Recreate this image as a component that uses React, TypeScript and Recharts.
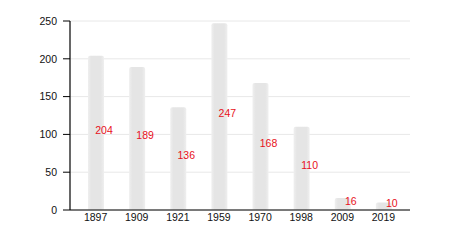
import { BarChart, Bar, XAxis, YAxis, CartesianGrid, LabelList } from "recharts"

const years = ["1897", "1909", "1921", "1959", "1970", "1998", "2009", "2019"]
const population = [204, 189, 136, 247, 168, 110, 16, 10]
const yTicks = [0, 50, 100, 150, 200, 250]

const data = years.map((year, i) => ({ year, value: population[i] }))

export default function App() {
  return (
    <div style={{ position: "absolute", left: 0, top: 0, fontFamily: "Liberation Sans, Arial, sans-serif" }}>
      <BarChart width={450} height={250} data={data} margin={{ top: 21, right: 40, bottom: 10, left: 0 }}>
        <defs>
          <linearGradient id="barFill" x1="0" y1="0" x2="1" y2="0">
            <stop offset="0%" stopColor="#efefef" />
            <stop offset="20%" stopColor="#e5e5e5" />
            <stop offset="80%" stopColor="#e5e5e5" />
            <stop offset="100%" stopColor="#efefef" />
          </linearGradient>
        </defs>
        <CartesianGrid vertical={false} stroke="#e8e8e8" />
        <XAxis
          dataKey="year"
          stroke="#000"
          axisLine={{ stroke: "#000", strokeWidth: 1.2 }}
          tickLine={false}
          tickSize={1}
          tickMargin={3}
          height={30}
          padding={{ left: 5, right: 6 }}
          tick={{ fill: "#111", fontSize: 10.5 }}
        />
        <YAxis
          domain={[0, 250]}
          ticks={yTicks}
          stroke="#000"
          axisLine={{ stroke: "#000", strokeWidth: 1.2 }}
          width={70}
          tickSize={7}
          tickMargin={6}
          tick={{ fill: "#111", fontSize: 10.5 }}
        />
        <Bar dataKey="value" fill="url(#barFill)" barSize={16} radius={[2, 2, 0, 0]} isAnimationActive={false}>
          <LabelList dataKey="value" position="center" dx={8} dy={-3} fill="#e8101a" fontSize={10.5} />
        </Bar>
      </BarChart>
    </div>
  )
}
